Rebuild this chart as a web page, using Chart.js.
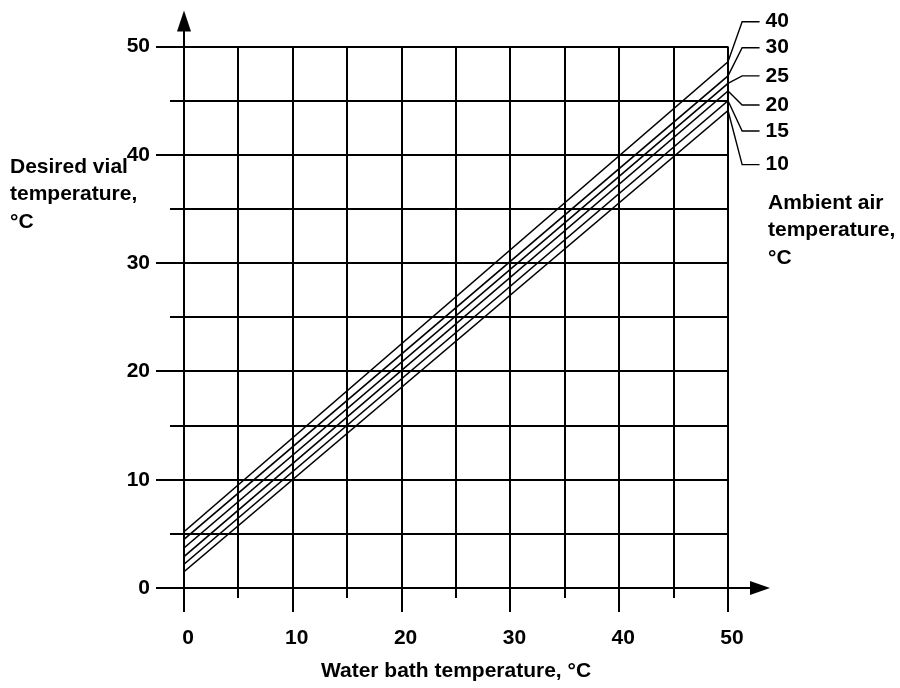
<!DOCTYPE html>
<html>
<head>
<meta charset="utf-8">
<script src="https://cdn.jsdelivr.net/npm/chart.js@4.4.1/dist/chart.umd.min.js"></script>
<style>
  html, body { margin: 0; background: #fff; }
  #wrap { width: 900px; height: 688px; }
</style>
</head>
<body>
<div id="wrap"><canvas id="c"></canvas></div>
<script>
// vial temperature vs water bath temperature, one line per ambient air temperature
const FAMILY = '"Liberation Sans", Arial, sans-serif';
const WATER = [0, 50];
const AMBIENT = ['40', '30', '25', '20', '15', '10'];
const VIAL_40 = [5.2, 48.6];
const VIAL_30 = [4.5, 47.3];
const VIAL_25 = [3.7, 46.6];
const VIAL_20 = [2.9, 45.9];
const VIAL_15 = [2.2, 45.0];
const VIAL_10 = [1.5, 44.1];
const SERIES = [VIAL_40, VIAL_30, VIAL_25, VIAL_20, VIAL_15, VIAL_10];
const LABEL_Y = [52.3, 49.9, 47.3, 44.6, 42.2, 39.1];   // where each ambient label sits (°C on y)
const GRID_STEPS = [0, 5, 10, 15, 20, 25, 30, 35, 40, 45, 50];

const ELBOW_X = 51.3, LEADER_END_X = 52.9;   // leader lines run past x = 50

const lines = SERIES.map((s, i) => ({
  data: WATER.map((w, j) => ({ x: w, y: s[j] })),
  borderColor: '#000', borderWidth: 1.6, pointRadius: 0, showLine: true, label: AMBIENT[i],
}));

const gridPlugin = {
  id: 'grid',
  beforeDatasetsDraw(chart) {
    const { ctx, scales: { x, y } } = chart;
    const top = y.getPixelForValue(50), bot = y.getPixelForValue(0);
    const l = x.getPixelForValue(0), r = x.getPixelForValue(50);
    ctx.save();
    ctx.strokeStyle = '#000';
    ctx.fillStyle = '#000';
    ctx.lineWidth = 2;
    GRID_STEPS.forEach((v) => {
      const major = v % 10 === 0;
      const px = Math.round(x.getPixelForValue(v));
      ctx.beginPath();
      ctx.moveTo(px, top);
      ctx.lineTo(px, bot + (major ? 24 : 10));
      ctx.stroke();
      const py = Math.round(y.getPixelForValue(v));
      ctx.beginPath();
      ctx.moveTo(l - (major ? 28 : 14), py);
      ctx.lineTo(r, py);
      ctx.stroke();
    });
    // x axis arrow
    ctx.beginPath();
    ctx.moveTo(r, bot);
    ctx.lineTo(r + 24, bot);
    ctx.stroke();
    ctx.beginPath();
    ctx.moveTo(r + 22, bot - 7);
    ctx.lineTo(r + 42, bot);
    ctx.lineTo(r + 22, bot + 7);
    ctx.closePath();
    ctx.fill();
    // y axis arrow
    ctx.beginPath();
    ctx.moveTo(l, top);
    ctx.lineTo(l, top - 17);
    ctx.stroke();
    ctx.beginPath();
    ctx.moveTo(l - 7, top - 15);
    ctx.lineTo(l, top - 36);
    ctx.lineTo(l + 7, top - 15);
    ctx.closePath();
    ctx.fill();
    ctx.restore();
  },
};

const textPlugin = {
  id: 'texts',
  afterDraw(chart) {
    const { ctx, scales: { x, y } } = chart;
    ctx.save();
    ctx.fillStyle = '#000';
    ctx.strokeStyle = '#000';
    ctx.lineWidth = 1.4;
    // leader lines from the end of each line out to its label
    SERIES.forEach((s, i) => {
      const ly = y.getPixelForValue(LABEL_Y[i]);
      ctx.beginPath();
      ctx.moveTo(x.getPixelForValue(WATER[1]), y.getPixelForValue(s[1]));
      ctx.lineTo(x.getPixelForValue(ELBOW_X), ly);
      ctx.lineTo(x.getPixelForValue(LEADER_END_X), ly);
      ctx.stroke();
    });
    ctx.font = 'bold 21px ' + FAMILY;
    ctx.textBaseline = 'middle';
    ctx.textAlign = 'left';
    AMBIENT.forEach((t, i) => {
      ctx.fillText(t, x.getPixelForValue(LEADER_END_X) + 6, y.getPixelForValue(LABEL_Y[i]));
    });
    ctx.font = 'bold 21px ' + FAMILY;
    ['Desired vial', 'temperature,', '°C'].forEach((t, i) => ctx.fillText(t, 10, 167 + i * 27.5));
    ['Ambient air', 'temperature,', '°C'].forEach((t, i) => ctx.fillText(t, 768, 203 + i * 27.5));
    ctx.restore();
  },
};

const tickFont = { family: FAMILY, size: 21, weight: 'bold' };

new Chart(document.getElementById('c'), {
  type: 'scatter',
  data: { datasets: lines },
  options: {
    responsive: true, maintainAspectRatio: false, animation: false,
    layout: { padding: { top: 43, right: 172, left: 0, bottom: 0 } },
    plugins: { legend: { display: false }, tooltip: { enabled: false } },
    scales: {
      x: {
        type: 'linear', min: 0, max: 50,
        grid: { display: false, drawTicks: false }, border: { display: false },
        ticks: { stepSize: 10, font: tickFont, color: '#000', padding: 38, labelOffset: 4 },
        title: {
          display: true, text: 'Water bath temperature, °C', color: '#000',
          font: { family: FAMILY, size: 21, weight: 'bold' }, padding: { top: 0, bottom: 4 },
        },
        afterFit: (s) => { s.height = 100; },
      },
      y: {
        type: 'linear', min: 0, max: 50,
        grid: { display: false, drawTicks: false }, border: { display: false },
        ticks: { stepSize: 10, font: tickFont, color: '#000', padding: 34 },
        afterFit: (s) => { s.width = 184; },
      },
    },
  },
  plugins: [gridPlugin, textPlugin],
});
</script>
</body>
</html>
